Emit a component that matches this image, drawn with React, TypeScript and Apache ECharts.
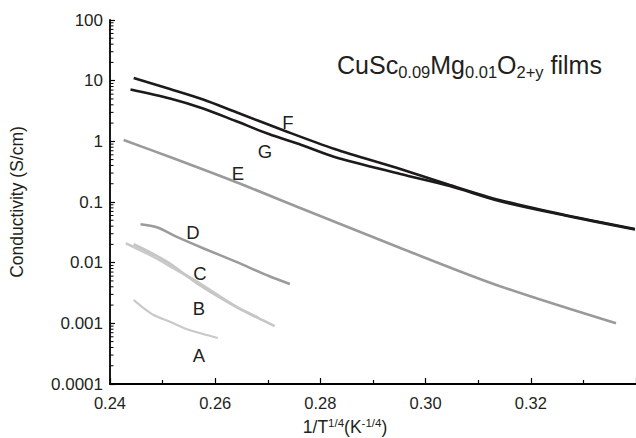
import React, { useEffect, useRef } from "react";
import * as echarts from "echarts";

// ---- data ----
const xTickLabels = ["0.24", "0.26", "0.28", "0.30", "0.32"];
const yTickLabels = ["0.0001", "0.001", "0.01", "0.1", "1", "10", "100"];

const F_X = [0.2445, 0.2514, 0.2577, 0.2639, 0.2733, 0.2827, 0.2952, 0.3046, 0.314, 0.3265, 0.3398];
const F_Y = [11.07, 7.29, 4.9, 3.05, 1.48, 0.748, 0.35, 0.191, 0.108, 0.061, 0.0359];

const G_X = [0.2439, 0.2514, 0.2577, 0.2639, 0.2702, 0.2764, 0.2827, 0.2952, 0.3046, 0.314, 0.3265, 0.3398];
const G_Y = [7.15, 5.08, 3.48, 2.16, 1.32, 0.87, 0.552, 0.29, 0.184, 0.104, 0.06, 0.0352];

const E_X = [0.2426, 0.2514, 0.2639, 0.2764, 0.2952, 0.314, 0.3362];
const E_Y = [1.05, 0.552, 0.214, 0.0782, 0.01746, 0.00413, 0.001];

const D_X = [0.2458, 0.2489, 0.2526, 0.2577, 0.2639, 0.2702, 0.2742];
const D_Y = [0.043, 0.0383, 0.0268, 0.0173, 0.0104, 0.00603, 0.00445];

const C_X = [0.2445, 0.2508, 0.257, 0.2639, 0.2683, 0.2713];
const C_Y = [0.0201, 0.0104, 0.00429, 0.00188, 0.00121, 0.0009];

const B_X = [0.243, 0.2483, 0.2508, 0.257, 0.2639, 0.2683];
const B_Y = [0.0209, 0.0125, 0.0094, 0.0046, 0.0019, 0.00122];

const A_X = [0.2445, 0.2458, 0.2483, 0.2514, 0.2545, 0.2577, 0.2605];
const A_Y = [0.00243, 0.00195, 0.00137, 0.00106, 0.000807, 0.000667, 0.000574];

const seriesNames = ["A", "B", "C", "D", "E", "F", "G"];

const yMinorTicks: number[] = [];
for (let e = -4; e < 2; e++) {
  for (let m = 2; m <= 9; m++) yMinorTicks.push(m * Math.pow(10, e));
}

const FONT = "'Liberation Sans', Arial, Helvetica, sans-serif";
const INK = "#231f20";

function pairs(xs: number[], ys: number[]) {
  return xs.map((x, i) => [x, ys[i]]);
}

function lineSeries(name: string, xs: number[], ys: number[], color: string, width: number) {
  return {
    name,
    type: "line",
    data: pairs(xs, ys),
    showSymbol: false,
    smooth: 0.3,
    lineStyle: { color, width },
    silent: true,
    z: 3,
  };
}

export default function App() {
  const ref = useRef<HTMLDivElement>(null);
  useEffect(() => {
    const chart = echarts.init(ref.current!, null, { renderer: "svg" });
    const labelText = (t: string, x: number, y: number) => ({
      type: "text",
      style: {
        text: t,
        x,
        y,
        fill: INK,
        font: `18.5px ${FONT}`,
        textAlign: "center",
        textVerticalAlign: "middle",
      },
    });
    chart.setOption({
      animation: false,
      backgroundColor: "#ffffff",
      grid: { left: 106, right: -3, top: 20, bottom: 54, containLabel: false },
      xAxis: {
        type: "value",
        min: 0.24,
        max: 0.34,
        interval: 0.02,
        axisLine: { show: true, onZero: false, lineStyle: { color: "#000", width: 1.8 } },
        axisTick: { show: true, inside: true, length: 6, lineStyle: { color: "#000", width: 1.2 } },
        minorTick: { show: true, splitNumber: 2, length: 4, lineStyle: { color: "#000", width: 1.2 } },
        splitLine: { show: false },
        axisLabel: {
          showMaxLabel: false,
          margin: 10,
          color: INK,
          fontFamily: FONT,
          fontSize: 16.5,
          formatter: (v: number) => xTickLabels[Math.round((v - 0.24) / 0.02)] ?? "",
        },
      },
      yAxis: {
        type: "log",
        logBase: 10,
        min: 0.0001,
        max: 100,
        axisLine: { show: true, lineStyle: { color: "#000", width: 1.8 } },
        axisTick: { show: true, inside: true, length: 5, lineStyle: { color: "#000", width: 1.2 } },
        splitLine: { show: false },
        axisLabel: {
          margin: 7,
          color: INK,
          fontFamily: FONT,
          fontSize: 17,
          formatter: (v: number) => yTickLabels[Math.round(Math.log10(v)) + 4] ?? "",
        },
        name: "Conductivity (S/cm)",
        nameLocation: "middle",
        nameGap: 84,
        nameTextStyle: { color: INK, fontFamily: FONT, fontSize: 17.5 },
      },
      series: [
        lineSeries(seriesNames[0], A_X, A_Y, "#c9c9c9", 2.2),
        lineSeries(seriesNames[1], B_X, B_Y, "#cacaca", 2.6),
        lineSeries(seriesNames[2], C_X, C_Y, "#c6c6c6", 2.6),
        lineSeries(seriesNames[3], D_X, D_Y, "#9b9b9b", 2.5),
        lineSeries(seriesNames[4], E_X, E_Y, "#9a9a9a", 2.6),
        lineSeries(seriesNames[5], F_X, F_Y, "#1c1a1a", 2.6),
        lineSeries(seriesNames[6], G_X, G_Y, "#1c1a1a", 2.6),
        {
          type: "custom",
          silent: true,
          clip: false,
          z: 10,
          data: yMinorTicks.map((v) => [0.24, v]),
          renderItem: (_p: any, api: any) => {
            const pt = api.coord([api.value(0), api.value(1)]);
            return {
              type: "line",
              shape: { x1: pt[0], y1: pt[1], x2: pt[0] + 3.5, y2: pt[1] },
              style: { stroke: "#000", lineWidth: 1 },
            };
          },
        },
      ],
      graphic: [
        {
          type: "text",
          style: {
            x: 337,
            y: 50,
            text: "{m|CuSc}{s|0.09}{m|Mg}{s|0.01}{m|O}{s|2+y}{m| films}",
            fill: INK,
            textVerticalAlign: "top",
            rich: {
              m: { fontSize: 25, lineHeight: 30, fontFamily: FONT, fill: INK },
              s: { fontSize: 16.5, lineHeight: 17, fontFamily: FONT, fill: INK, verticalAlign: "bottom" },
            },
          },
        },
        {
          type: "text",
          style: {
            x: 345,
            y: 417,
            text: "{m|1/T}{s|1/4}{m|(K}{s|-1/4}{m|)}",
            fill: INK,
            textAlign: "center",
            textVerticalAlign: "top",
            rich: {
              m: { fontSize: 17.5, lineHeight: 20, fontFamily: FONT, fill: INK },
              s: { fontSize: 11.5, lineHeight: 10, fontFamily: FONT, fill: INK, verticalAlign: "top" },
            },
          },
        },
        labelText("F", 288, 122),
        labelText("G", 265, 151),
        labelText("E", 238, 173),
        labelText("D", 193, 232),
        labelText("C", 200, 273),
        labelText("B", 199, 308),
        labelText("A", 199, 355),
      ],
    });
    return () => chart.dispose();
  }, []);
  return <div ref={ref} style={{ position: "absolute", left: 0, top: 0, width: 636, height: 438 }} />;
}
